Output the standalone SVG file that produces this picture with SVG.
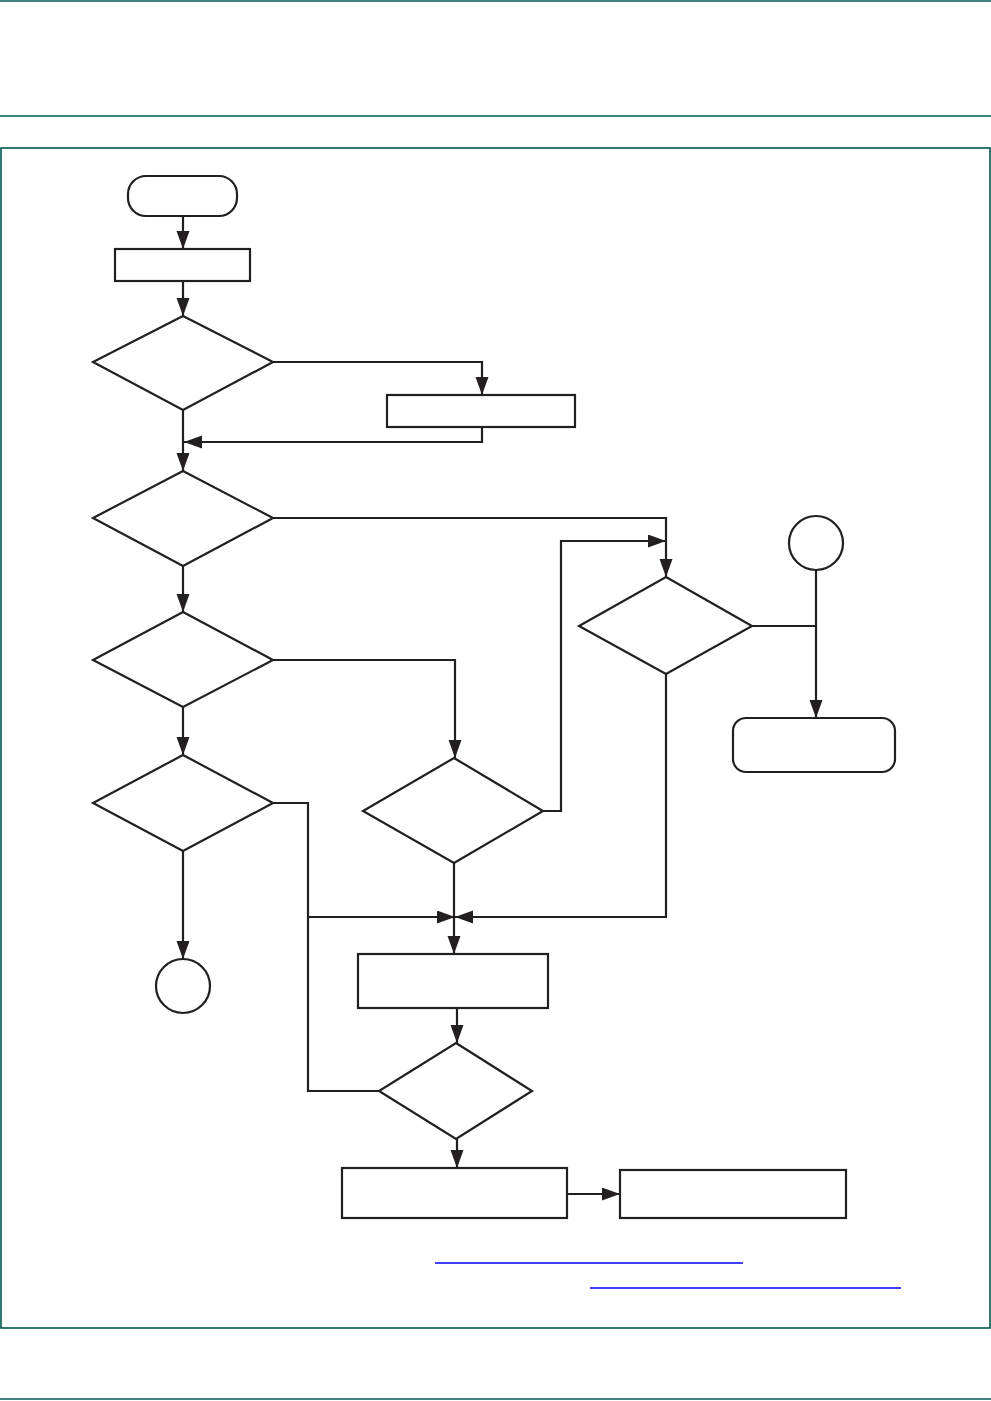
<svg xmlns="http://www.w3.org/2000/svg" width="991" height="1401" viewBox="0 0 991 1401">
<style>
.pg{stroke:#00584c;stroke-width:1.6;fill:none}
.n{fill:#fff;stroke:#231f20;stroke-width:2.2}
.c{fill:none;stroke:#231f20;stroke-width:2.2}
.lk{stroke:#0000ff;stroke-width:1.3}
</style>
<defs>
<marker id="ah" markerUnits="userSpaceOnUse" markerWidth="19" markerHeight="14" refX="18" refY="6.5" orient="auto">
<path d="M0,0 L18,6.5 L0,13 z" fill="#231f20"/>
</marker>
</defs>
<rect width="991" height="1401" fill="#fff"/>
<g id="page">
<line class="pg" x1="0" y1="1" x2="991" y2="1"/>
<line class="pg" x1="0" y1="116" x2="991" y2="116"/>
<rect class="pg" x="1" y="148" width="989" height="1180"/>
<line class="pg" x1="0" y1="1399" x2="991" y2="1399"/>
</g>
<g id="connectors">
<line class="c" x1="183" y1="217" x2="183" y2="249" marker-end="url(#ah)"/>
<line class="c" x1="183" y1="281" x2="183" y2="316" marker-end="url(#ah)"/>
<polyline class="c" points="273,362 482,362 482,395" marker-end="url(#ah)"/>
<polyline class="c" points="482,427 482,442 184,442" marker-end="url(#ah)"/>
<line class="c" x1="183" y1="410" x2="183" y2="471" marker-end="url(#ah)"/>
<polyline class="c" points="273,518 666,518 666,577" marker-end="url(#ah)"/>
<line class="c" x1="183" y1="566" x2="183" y2="612" marker-end="url(#ah)"/>
<polyline class="c" points="273,660 455,660 455,758" marker-end="url(#ah)"/>
<line class="c" x1="183" y1="707" x2="183" y2="755" marker-end="url(#ah)"/>
<line class="c" x1="183" y1="851" x2="183" y2="959" marker-end="url(#ah)"/>
<polyline class="c" points="273,803 308,803 308,1091 379,1091"/>
<line class="c" x1="308" y1="917" x2="455" y2="917" marker-end="url(#ah)"/>
<polyline class="c" points="543,811 561,811 561,541 666,541" marker-end="url(#ah)"/>
<polyline class="c" points="752,626 816,626"/>
<line class="c" x1="816" y1="570" x2="816" y2="718" marker-end="url(#ah)"/>
<polyline class="c" points="666,674 666,917 455,917" marker-end="url(#ah)"/>
<line class="c" x1="454" y1="863" x2="454" y2="954" marker-end="url(#ah)"/>
<line class="c" x1="457" y1="1008" x2="457" y2="1043" marker-end="url(#ah)"/>
<line class="c" x1="457" y1="1139" x2="457" y2="1168" marker-end="url(#ah)"/>
<line class="c" x1="567" y1="1194" x2="620" y2="1194" marker-end="url(#ah)"/>
</g>
<g id="start"><rect class="n" x="128" y="176" width="109" height="40" rx="18"/></g>
<g id="box1"><rect class="n" x="115" y="249" width="135" height="32"/></g>
<g id="d1"><polygon class="n" points="183,316 273,362 183,410 93,362"/></g>
<g id="box2"><rect class="n" x="387" y="395" width="188" height="32"/></g>
<g id="d2"><polygon class="n" points="183,471 273,518 183,566 93,518"/></g>
<g id="d3"><polygon class="n" points="183,612 273,660 183,707 93,660"/></g>
<g id="d4"><polygon class="n" points="666,577 752,626 666,674 579,626"/></g>
<g id="conn1"><circle class="n" cx="816" cy="543" r="27"/></g>
<g id="end1"><rect class="n" x="733" y="718" width="162" height="54" rx="13"/></g>
<g id="d5"><polygon class="n" points="454,758 543,811 454,863 363,811"/></g>
<g id="d6"><polygon class="n" points="183,755 273,803 183,851 93,803"/></g>
<g id="conn2"><circle class="n" cx="183" cy="986" r="27"/></g>
<g id="box3"><rect class="n" x="358" y="954" width="190" height="54"/></g>
<g id="d7"><polygon class="n" points="456,1043 532,1091 456,1139 379,1091"/></g>
<g id="box4"><rect class="n" x="342" y="1168" width="225" height="50"/></g>
<g id="box5"><rect class="n" x="620" y="1170" width="226" height="48"/></g>
<g id="links">
<line class="lk" x1="435" y1="1263" x2="743" y2="1263"/>
<line class="lk" x1="590" y1="1288" x2="901" y2="1288"/>
</g>
</svg>
